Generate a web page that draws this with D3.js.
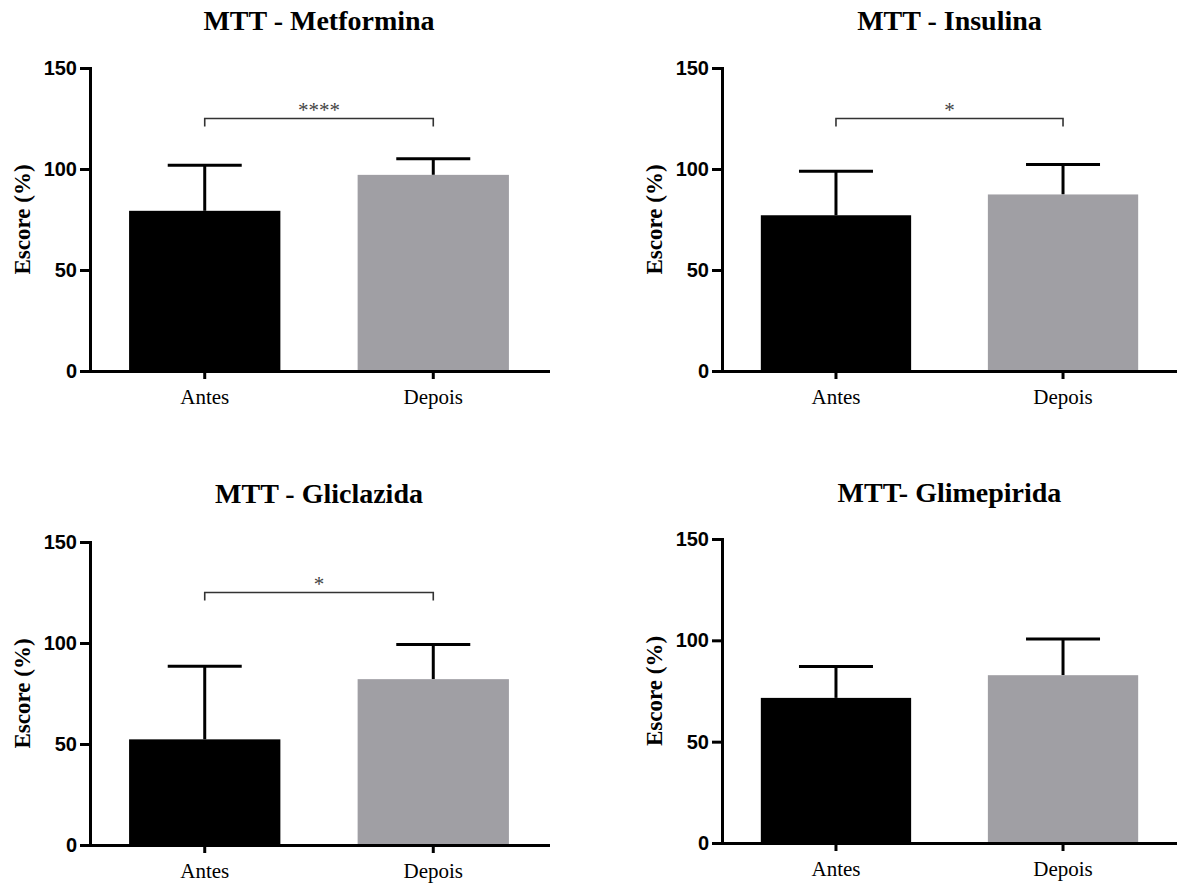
<!DOCTYPE html>
<html>
 <head>
    <script type="text/javascript" src="https://d3js.org/d3.v7.min.js"></script>
    <style>
      body { margin: 0; background: #fff; }
    </style>
 </head>
 <body>
    <div id="my_dataviz"></div>
<script>

// data
var categories = ["Antes", "Depois"];
var titles = ["MTT - Metformina", "MTT - Insulina", "MTT - Gliclazida", "MTT- Glimepirida"];
var means = [[79.3, 97.1], [77.1, 87.4], [52.3, 82.1], [71.6, 82.8]];
var errors = [[22.6, 8.0], [21.8, 14.8], [36.2, 17.1], [15.5, 17.9]];
var stars = ["****", "*", "*", ""];
var bracketValue = 125;
var yTicks = [0, 50, 100, 150];
var barColors = ["#000000", "#a09fa4"];

// layout of each panel (pixels)
var panels = [
  { left: 90,  right: 548,  top: 68,  bottom: 371, titleY: 30 },
  { left: 722, right: 1177, top: 68,  bottom: 371, titleY: 30 },
  { left: 90,  right: 548,  top: 542, bottom: 845, titleY: 503 },
  { left: 722, right: 1177, top: 539, bottom: 843, titleY: 502 }
];

var svg = d3.select("#my_dataviz")
  .append("svg")
  .attr("width", 1177)
  .attr("height", 883);

function draw_panel(i) {
  var p = panels[i];

  var ScaleX = d3.scaleBand()
    .domain(categories)
    .range([p.left, p.right])
    .paddingInner(0.338)
    .paddingOuter(0.171);

  var ScaleY = d3.scaleLinear()
    .domain([0, 150])
    .range([p.bottom, p.top]);

  var g = svg.append("g");

  var rows = categories.map(function (c, j) {
    return { cat: c, mean: means[i][j], err: errors[i][j], color: barColors[j] };
  });

  // error bars (drawn first so the bar covers the lower part)
  g.selectAll(".err")
    .data(rows)
    .enter().append("line")
    .attr("x1", function (d) { return ScaleX(d.cat) + ScaleX.bandwidth() / 2; })
    .attr("x2", function (d) { return ScaleX(d.cat) + ScaleX.bandwidth() / 2; })
    .attr("y1", function (d) { return ScaleY(d.mean); })
    .attr("y2", function (d) { return ScaleY(d.mean + d.err); })
    .attr("stroke", "#000")
    .attr("stroke-width", 3);

  g.selectAll(".cap")
    .data(rows)
    .enter().append("line")
    .attr("x1", function (d) { return ScaleX(d.cat) + ScaleX.bandwidth() / 2 - 37; })
    .attr("x2", function (d) { return ScaleX(d.cat) + ScaleX.bandwidth() / 2 + 37; })
    .attr("y1", function (d) { return ScaleY(d.mean + d.err); })
    .attr("y2", function (d) { return ScaleY(d.mean + d.err); })
    .attr("stroke", "#000")
    .attr("stroke-width", 3);

  g.selectAll(".bar")
    .data(rows)
    .enter().append("rect")
    .attr("x", function (d) { return ScaleX(d.cat); })
    .attr("width", ScaleX.bandwidth())
    .attr("y", function (d) { return ScaleY(d.mean); })
    .attr("height", function (d) { return ScaleY(0) - ScaleY(d.mean); })
    .attr("fill", function (d) { return d.color; });

  // axes
  var yAxis = g.append("g")
    .attr("transform", "translate(" + p.left + ",0)")
    .call(d3.axisLeft(ScaleY).tickValues(yTicks).tickSize(10).tickSizeOuter(0).tickPadding(3));

  var xAxis = g.append("g")
    .attr("transform", "translate(0," + p.bottom + ")")
    .call(d3.axisBottom(ScaleX).tickSize(8).tickSizeOuter(0).tickPadding(10));

  g.selectAll(".domain").attr("stroke-width", 3).attr("stroke-linecap", "square");
  g.selectAll(".tick line").attr("stroke-width", 3);

  yAxis.selectAll("text")
    .style("font-family", "'Liberation Sans', Arial, sans-serif")
    .style("font-weight", "bold")
    .style("font-size", "20px")
    .attr("fill", "#000");

  xAxis.selectAll("text")
    .style("font-family", "'Liberation Serif', 'Times New Roman', serif")
    .style("font-size", "21px")
    .attr("fill", "#000");

  // y axis label
  g.append("text")
    .attr("transform", "translate(" + (p.left - 60) + "," + ((p.top + p.bottom) / 2) + ") rotate(-90)")
    .style("text-anchor", "middle")
    .style("font-family", "'Liberation Serif', 'Times New Roman', serif")
    .style("font-weight", "bold")
    .style("font-size", "23px")
    .text("Escore (%)");

  // title
  g.append("text")
    .attr("x", (p.left + p.right) / 2)
    .attr("y", p.titleY)
    .style("text-anchor", "middle")
    .style("font-family", "'Liberation Serif', 'Times New Roman', serif")
    .style("font-weight", "bold")
    .style("font-size", "28px")
    .text(titles[i]);

  // significance bracket
  if (stars[i] !== "") {
    var xa = ScaleX(categories[0]) + ScaleX.bandwidth() / 2;
    var xb = ScaleX(categories[1]) + ScaleX.bandwidth() / 2;
    var yb = ScaleY(bracketValue);
    g.append("path")
      .attr("d", "M" + xa + "," + (yb + 8) + "V" + yb + "H" + xb + "V" + (yb + 8))
      .attr("fill", "none")
      .attr("stroke", "#333")
      .attr("stroke-width", 1.6);
    g.append("text")
      .attr("x", (xa + xb) / 2)
      .attr("y", yb - 2)
      .style("text-anchor", "middle")
      .style("font-family", "'Liberation Serif', 'Times New Roman', serif")
      .style("font-size", "21px")
      .attr("fill", "#444")
      .text(stars[i]);
  }
}

for (var i = 0; i < panels.length; i++) {
  draw_panel(i);
}

</script>
 </body>
</html>
